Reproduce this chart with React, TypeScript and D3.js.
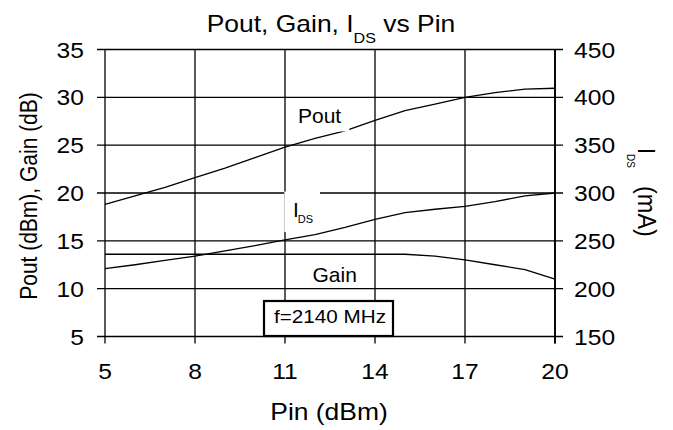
import React, { useEffect, useRef } from 'react';
import * as d3 from 'd3';

// values
const pin = [5, 6, 7, 8, 9, 10, 11, 12, 13, 14, 15, 16, 17, 18, 19, 20];
const pout = [18.8, 19.7, 20.6, 21.6, 22.6, 23.7, 24.8, 25.7, 26.5, 27.6, 28.6, 29.3, 30.0, 30.5, 30.85, 30.95];
const gain = [13.6, 13.6, 13.6, 13.6, 13.6, 13.6, 13.6, 13.6, 13.6, 13.6, 13.6, 13.4, 13.0, 12.5, 12.0, 11.0];
const ids = [221, 225, 229.5, 234, 239.5, 245, 251, 256.5, 264, 272.5, 279.5, 283, 286, 291, 297, 300];

const xTicks = [5, 8, 11, 14, 17, 20];
const leftTicks = [5, 10, 15, 20, 25, 30, 35];
const rightTicks = [150, 200, 250, 300, 350, 400, 450];

const FONT = '"Liberation Sans", Arial, Helvetica, sans-serif';

const App = () => {
  const svgRef = useRef<SVGSVGElement>(null);

  useEffect(() => {
    const svg = d3.select(svgRef.current);
    svg.selectAll('*').remove();

    const x = d3.scaleLinear().domain([5, 20]).range([105, 555]);
    const yL = d3.scaleLinear().domain([5, 35]).range([336.5, 49.5]);
    const yR = d3.scaleLinear().domain([150, 450]).range([336.5, 49.5]);
    const [x0, x1] = x.range();
    const [yb, yt] = yL.range();

    const txt = (g: any, px: number, py: number, s: string, size: number, anchor: string, sx = 1.12) =>
      g.append('text')
        .attr('transform', `translate(${px},${py}) scale(${sx},1)`)
        .attr('text-anchor', anchor)
        .attr('font-size', size)
        .attr('font-family', FONT)
        .attr('fill', '#000')
        .text(s);

    // grid + ticks
    const grid = svg.append('g').attr('stroke', '#000').attr('stroke-width', 1.3);
    grid.selectAll('line.h')
      .data(leftTicks)
      .enter()
      .append('line')
      .attr('class', 'h')
      .attr('x1', x0 - 8)
      .attr('x2', x1 + 8)
      .attr('y1', d => yL(d))
      .attr('y2', d => yL(d));
    grid.selectAll('line.v')
      .data(xTicks)
      .enter()
      .append('line')
      .attr('class', 'v')
      .attr('x1', d => x(d))
      .attr('x2', d => x(d))
      .attr('y1', yt)
      .attr('y2', yb + 7);
    // right axis a touch heavier
    grid.append('line').attr('x1', x1).attr('x2', x1).attr('y1', yt).attr('y2', yb + 7).attr('stroke-width', 1.8);

    // curves
    const lineL = d3.line<number>().x((_, i) => x(pin[i])).y(d => yL(d));
    const lineR = d3.line<number>().x((_, i) => x(pin[i])).y(d => yR(d));
    const curves = svg.append('g').attr('fill', 'none').attr('stroke', '#000').attr('stroke-width', 1.3);
    curves.append('path').attr('d', lineL(pout));
    curves.append('path').attr('d', lineL(gain));
    curves.append('path').attr('d', lineR(ids));

    // white boxes behind inner labels
    svg.append('rect').attr('x', 295).attr('y', 100).attr('width', 54.3).attr('height', 31.5).attr('fill', '#fff');
    svg.append('rect').attr('x', 284.3).attr('y', 191.5).attr('width', 35.7).attr('height', 40.5).attr('fill', '#fff');

    // inner labels
    txt(svg, 298, 123, 'Pout', 21, 'start', 1);
    txt(svg, 312.5, 281.7, 'Gain', 21, 'start', 1);
    const idsLab = svg.append('text')
      .attr('transform', 'translate(293,216.7)')
      .attr('font-family', FONT)
      .attr('font-size', 21);
    idsLab.append('tspan').text('I');
    idsLab.append('tspan').attr('font-size', 11).attr('dx', -1).attr('dy', 6.3).text('DS');

    // frequency box
    svg.append('rect')
      .attr('x', 264).attr('y', 301).attr('width', 129).attr('height', 35)
      .attr('fill', '#fff').attr('stroke', '#000').attr('stroke-width', 2.2);
    txt(svg, 330, 323.3, 'f=2140 MHz', 18, 'middle', 1.15);

    // tick labels
    leftTicks.forEach(d => txt(svg, 84, yL(d) + 8, String(d), 22, 'end'));
    rightTicks.forEach(d => txt(svg, 574, yR(d) + 8, String(d), 22, 'start'));
    xTicks.forEach(d => txt(svg, x(d), 379, String(d), 22, 'middle'));

    // title
    const title = svg.append('text')
      .attr('transform', 'translate(331,31.7) scale(1.15,1)')
      .attr('text-anchor', 'middle')
      .attr('font-family', FONT)
      .attr('font-size', 23);
    title.append('tspan').text('Pout, Gain, I');
    title.append('tspan').attr('font-size', 14).attr('dy', 11.6).text('DS');
    title.append('tspan').attr('dy', -11.6).text('\u00a0vs Pin');

    // axis titles
    txt(svg, 329, 420, 'Pin (dBm)', 23, 'middle', 1.15);
    svg.append('text')
      .attr('transform', 'translate(37,196) scale(1.15,1) rotate(-90)')
      .attr('text-anchor', 'middle')
      .attr('font-family', FONT)
      .attr('font-size', 21)
      .text('Pout (dBm), Gain (dB)');
    const rLab = svg.append('text')
      .attr('transform', 'translate(638,148) scale(1.12,1) rotate(90)')
      .attr('font-family', FONT)
      .attr('font-size', 22);
    rLab.append('tspan').text('I');
    rLab.append('tspan').attr('font-size', 10).attr('dy', 10).text('DS');
    rLab.append('tspan').attr('dy', -10).attr('dx', 18).attr('font-size', 23.5).text('(mA)');
  }, []);

  return (
    <svg
      ref={svgRef}
      width={673}
      height={430}
      style={{ position: 'absolute', left: 0, top: 0, background: '#fff' }}
    />
  );
};

export default App;
